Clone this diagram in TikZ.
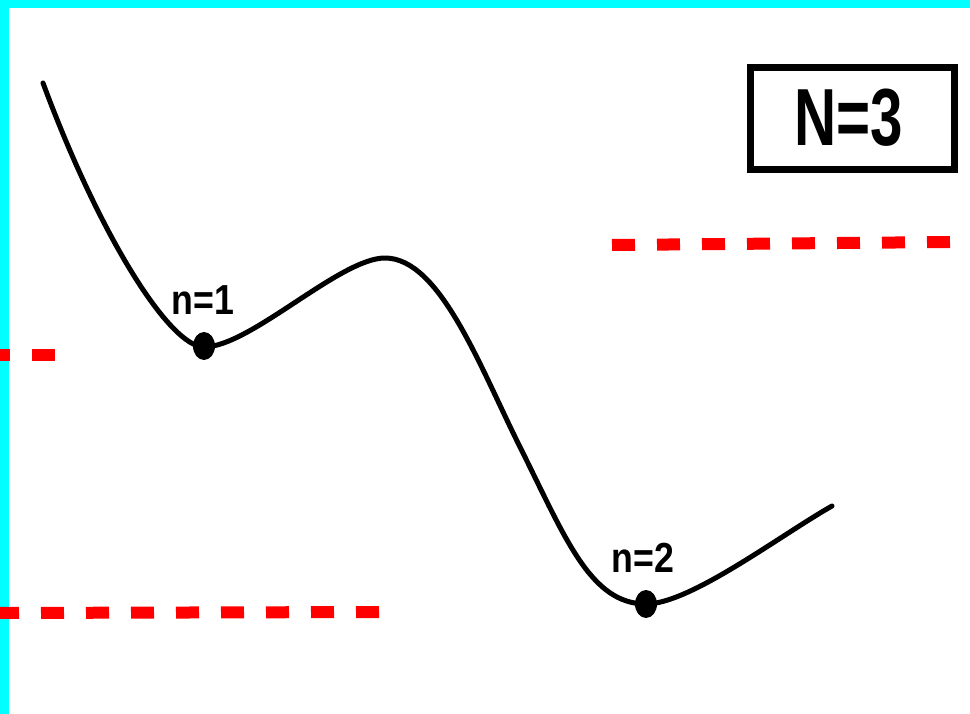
\documentclass[tikz,border=0pt]{standalone}
\usepackage{fontspec}
\setmainfont{Liberation Sans}
\usetikzlibrary{shapes.geometric}
\definecolor{cyanbar}{HTML}{00FFFF}
\definecolor{reddash}{HTML}{FF0000}
\begin{document}
\begin{tikzpicture}[x=1pt,y=-1pt,
  reddashes/.style={draw=reddash,line width=12pt,dash pattern=on 23pt off 22pt},
  curveline/.style={draw=black,line width=5pt,line cap=round,line join=round},
  dotnode/.style={ellipse,fill=black,inner sep=0pt,minimum width=22pt,minimum height=28pt},
  lbl/.style={inner sep=0pt,anchor=base,font=\bfseries\fontsize{42}{42}\selectfont},
  bigbox/.style={draw=black,line width=7pt,minimum width=204pt,minimum height=102pt,inner sep=0pt}]
\useasboundingbox (0,0) rectangle (970,714);
\fill[white] (0,0) rectangle (970,714);
% cyan frame bars
\fill[cyanbar] (0,0) rectangle (970,8);
\fill[cyanbar] (0,0) rectangle (9,714);
% red dashed levels
\coordinate (a1) at (-13,355);
\coordinate (a2) at (56,355);
\coordinate (b1) at (-4,613);
\coordinate (b2) at (381,612);
\coordinate (c1) at (612,245);
\coordinate (c2) at (952,242);
\draw[reddashes] (a1) -- (a2);
\draw[reddashes] (b1) -- (b2);
\draw[reddashes] (c1) -- (c2);
% potential curve
\coordinate (p0) at (43,83);
\coordinate (m1) at (204,347);
\coordinate (top) at (385,258);
\coordinate (inf) at (520,447);
\coordinate (m2) at (646,604);
\coordinate (pe) at (832,506);
\draw[curveline] (p0) .. controls (100,237) and (170,347) .. (m1)
  .. controls (250,347) and (340,258) .. (top)
  .. controls (440,258) and (480,367) .. (inf)
  .. controls (565,537) and (590,604) .. (m2)
  .. controls (690,604) and (780,535.5) .. (pe);
% minima
\node[dotnode] (d1) at (204,346) {};
\node[dotnode] (d2) at (646,604) {};
\node[lbl] (l1) at (203,315) {\scalebox{0.85}[1]{n=1}};
\node[lbl] (l2) at (643,572) {\scalebox{0.85}[1]{n=2}};
% N=3 box
\node[bigbox] (box) at (852.5,118.5) {};
\node[inner sep=0pt,anchor=base,font=\bfseries\fontsize{81}{81}\selectfont] (bt) at (849,146) {\scalebox{0.72}[1]{N=3}};
\end{tikzpicture}
\end{document}
